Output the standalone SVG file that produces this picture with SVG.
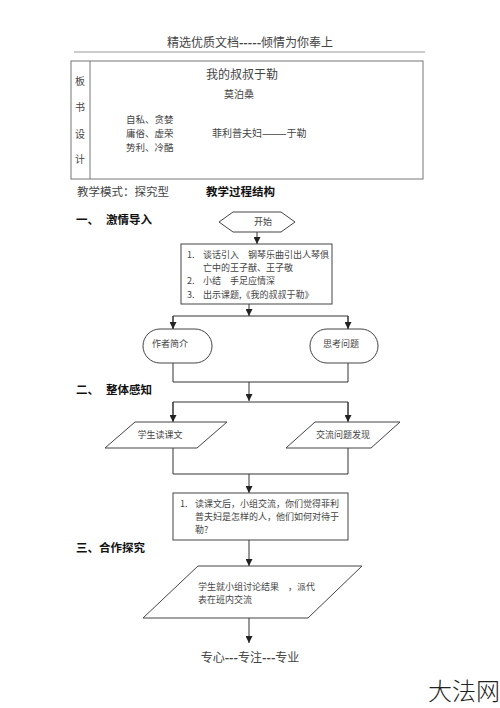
<svg xmlns="http://www.w3.org/2000/svg" width="500" height="708" viewBox="0 0 500 708">
<style>
.t{font-family:"Noto Sans CJK SC","Liberation Serif",serif;fill:#444}
.b{font-family:"Noto Sans CJK SC","Liberation Sans",sans-serif;font-weight:bold;fill:#111}
.s{fill:#fff;stroke:#444;stroke-width:1}
.c{fill:none;stroke:#333;stroke-width:1}
</style>
<defs>
<marker id="ar" viewBox="0 0 8 8" refX="8" refY="4" markerWidth="7" markerHeight="7" markerUnits="userSpaceOnUse" orient="auto">
<path d="M0,0 L8,4 L0,8 z" fill="#222"/>
</marker>
</defs>
<rect width="500" height="708" fill="#fff"/>
<g id="header">
<text class="t" x="250" y="47" font-size="12" text-anchor="middle">精选优质文档<tspan font-weight="bold">-----</tspan>倾情为你奉上</text>
<line x1="74" y1="52" x2="425" y2="52" stroke="#ccc" stroke-width="2"/>
</g>
<g id="board">
<rect x="71" y="61" width="352" height="118" fill="none" stroke="#777" stroke-width="1"/>
<line x1="90" y1="61" x2="90" y2="179" stroke="#777" stroke-width="1"/>
<text class="t" x="80" y="85" font-size="10" text-anchor="middle">板</text>
<text class="t" x="80" y="111" font-size="10" text-anchor="middle">书</text>
<text class="t" x="80" y="138" font-size="10" text-anchor="middle">设</text>
<text class="t" x="80" y="163" font-size="10" text-anchor="middle">计</text>
<text class="t" x="242" y="79" font-size="12" text-anchor="middle">我的叔叔于勒</text>
<text class="t" x="239" y="98" font-size="10" text-anchor="middle">莫泊桑</text>
<text class="t" x="126" y="123" font-size="9.5">自私、贪婪</text>
<text class="t" x="126" y="137" font-size="9.5">庸俗、虚荣</text>
<text class="t" x="126" y="151" font-size="9.5">势利、冷酷</text>
<text class="t" x="212" y="137" font-size="10">菲利普夫妇———于勒</text>
</g>
<g id="labels">
<text class="t" x="77" y="196" font-size="11.5">教学模式：探究型</text>
<text class="b" x="206" y="196" font-size="11.5">教学过程结构</text>
<text class="b" x="76" y="224" font-size="11.5">一、</text>
<text class="b" x="106" y="224" font-size="11.5">激情导入</text>
<text class="b" x="76" y="394" font-size="11.5">二、</text>
<text class="b" x="106" y="394" font-size="11.5">整体感知</text>
<text class="b" x="76" y="552" font-size="11.5">三、合作探究</text>
</g>
<g id="connectors">
<line class="c" x1="257" y1="232" x2="257" y2="244" marker-end="url(#ar)"/>
<line class="c" x1="249" y1="304" x2="249" y2="316" marker-end="url(#ar)"/>
<polyline class="c" points="173,329 173,316 348,316 348,329"/>
<line class="c" x1="173" y1="316" x2="173" y2="329" marker-end="url(#ar)"/>
<line class="c" x1="348" y1="316" x2="348" y2="329" marker-end="url(#ar)"/>
<polyline class="c" points="173,363 173,382 348,382 348,363"/>
<line class="c" x1="249" y1="382" x2="249" y2="401" marker-end="url(#ar)"/>
<polyline class="c" points="173,421 173,402 348,402 348,421"/>
<line class="c" x1="173" y1="402" x2="173" y2="422" marker-end="url(#ar)"/>
<line class="c" x1="348" y1="402" x2="348" y2="422" marker-end="url(#ar)"/>
<polyline class="c" points="173,448 173,474 348,474 348,448"/>
<line class="c" x1="249" y1="474" x2="249" y2="493" marker-end="url(#ar)"/>
<line class="c" x1="249" y1="540" x2="249" y2="566" marker-end="url(#ar)"/>
<line class="c" x1="249" y1="618" x2="249" y2="643" marker-end="url(#ar)"/>
</g>
<g id="start">
<polygon class="s" points="219,222 233,212 281,212 295,222 281,232 233,232"/>
<text class="t" x="263" y="225" font-size="9" text-anchor="middle">开始</text>
</g>
<g id="intro">
<rect class="s" x="181" y="244" width="151" height="60"/>
<text class="t" font-size="9">
<tspan x="187" y="258">1.</tspan><tspan x="203" y="258">谈话引入　钢琴乐曲引出人琴俱</tspan>
<tspan x="203" y="271">亡中的王子猷、王子敬</tspan>
<tspan x="187" y="284">2.</tspan><tspan x="203" y="284">小结　手足应情深</tspan>
<tspan x="187" y="298">3.</tspan><tspan x="203" y="298">出示课题,《我的叔叔于勒》</tspan>
</text>
</g>
<g id="author">
<rect class="s" x="143" y="329" width="69" height="34" rx="17" ry="17"/>
<text class="t" x="170" y="347" font-size="9" text-anchor="middle">作者简介</text>
</g>
<g id="think">
<rect class="s" x="310" y="329" width="68" height="34" rx="17" ry="17"/>
<text class="t" x="341" y="347" font-size="9" text-anchor="middle">思考问题</text>
</g>
<g id="read">
<polygon class="s" points="135,422 227,422 197,448 105,448"/>
<text class="t" x="160" y="438" font-size="9" text-anchor="middle">学生读课文</text>
</g>
<g id="discover">
<polygon class="s" points="315,422 400,422 371,448 286,448"/>
<text class="t" x="343" y="438" font-size="9" text-anchor="middle">交流问题发现</text>
</g>
<g id="discuss">
<rect class="s" x="173" y="493" width="175" height="47"/>
<text class="t" font-size="9">
<tspan x="180" y="507">1.</tspan><tspan x="195" y="507">读课文后，小组交流，你们觉得菲利</tspan>
<tspan x="195" y="520">普夫妇是怎样的人，他们如何对待于</tspan>
<tspan x="195" y="533">勒?</tspan>
</text>
</g>
<g id="report">
<polygon class="s" points="198,566 362,566 308,618 143,618"/>
<text class="t" font-size="9">
<tspan x="198" y="590">学生就小组讨论结果　，派代</tspan>
<tspan x="198" y="603">表在班内交流</tspan>
</text>
</g>
<g id="footer">
<text class="t" x="250" y="662" font-size="12" text-anchor="middle" fill="#666">专心<tspan font-weight="bold">---</tspan>专注<tspan font-weight="bold">---</tspan>专业</text>
<text x="428" y="700" font-size="24" font-weight="300" fill="#222" font-family="'Noto Sans CJK SC',sans-serif">大法网</text>
</g>
</svg>
